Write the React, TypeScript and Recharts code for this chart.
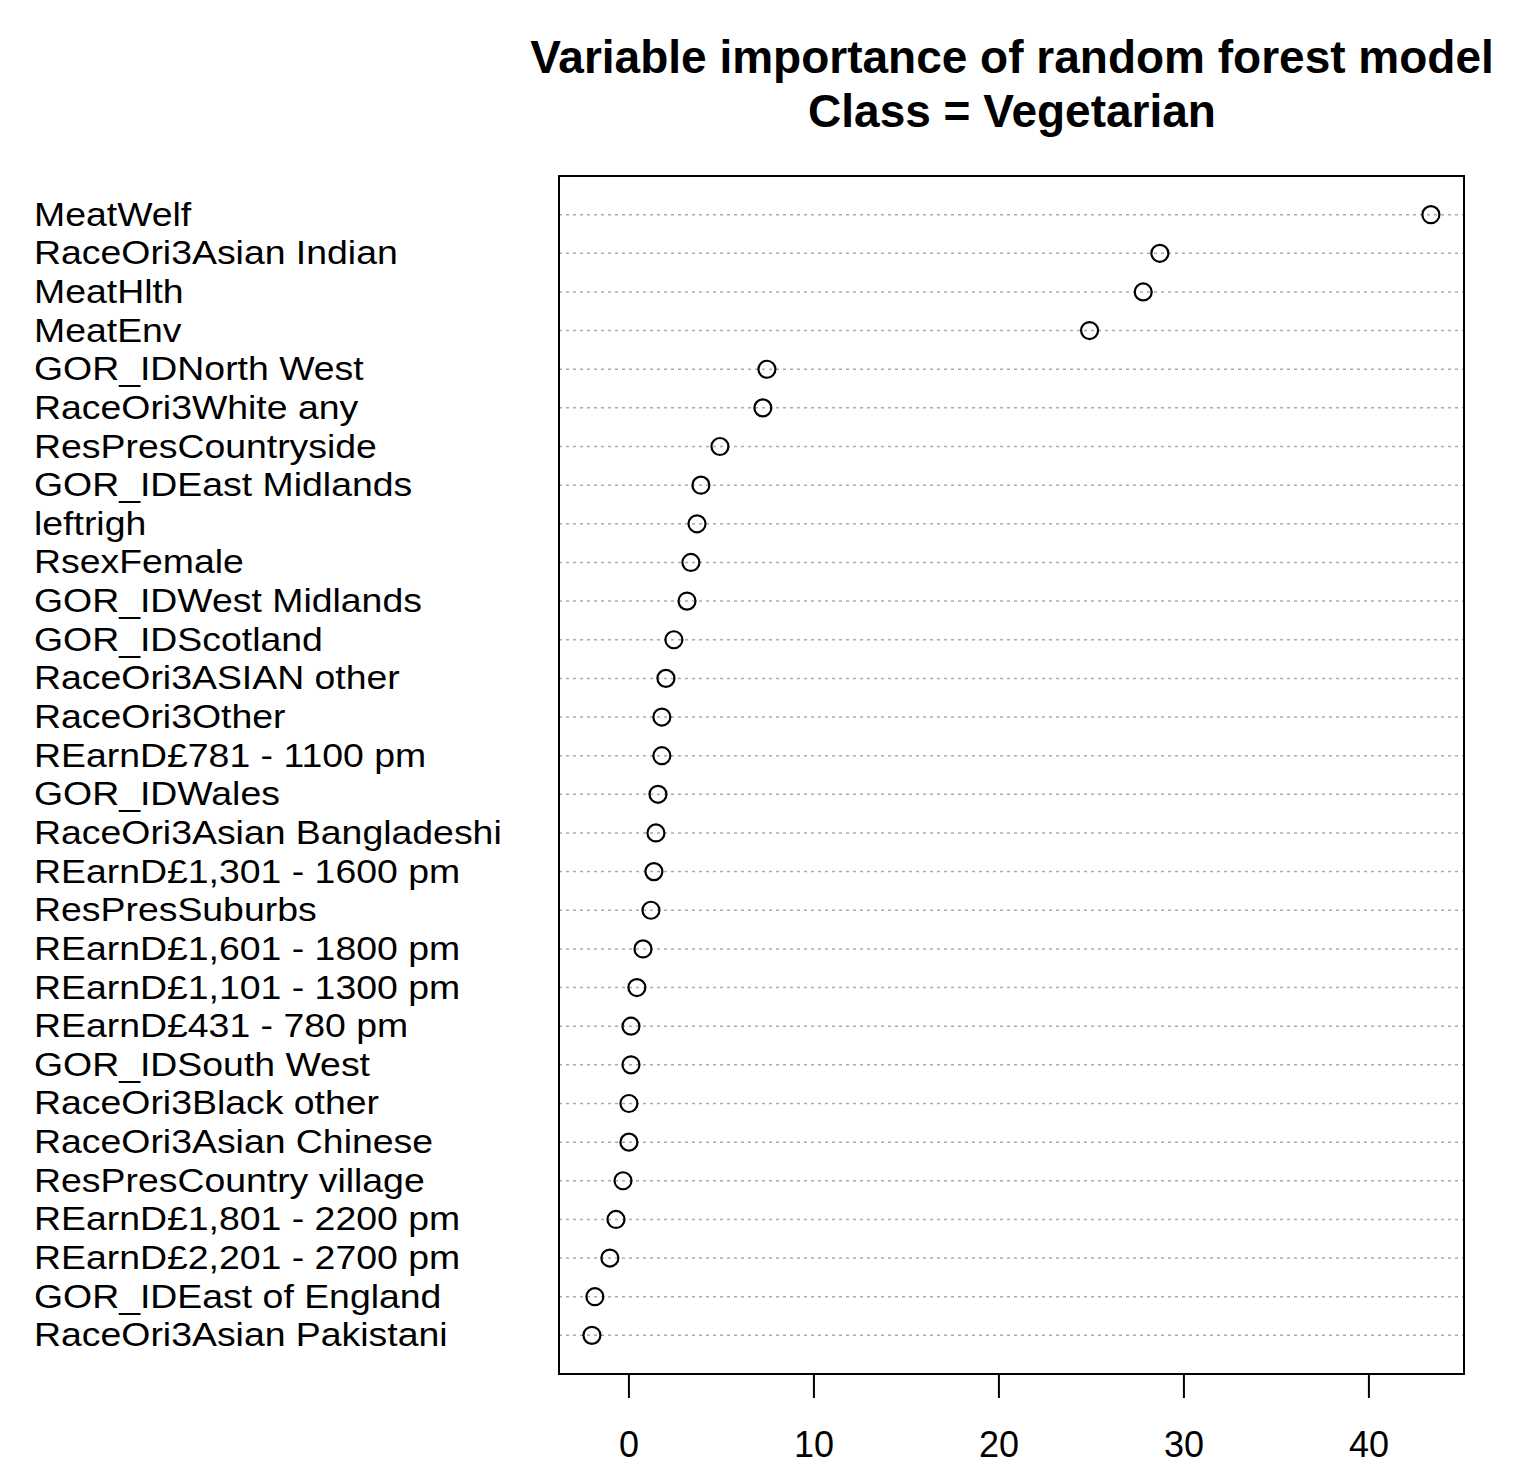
import { ScatterChart, Scatter, XAxis, YAxis, CartesianGrid, ReferenceArea } from 'recharts'

const LABELS = [
  'MeatWelf',
  'RaceOri3Asian Indian',
  'MeatHlth',
  'MeatEnv',
  'GOR_IDNorth West',
  'RaceOri3White any',
  'ResPresCountryside',
  'GOR_IDEast Midlands',
  'leftrigh',
  'RsexFemale',
  'GOR_IDWest Midlands',
  'GOR_IDScotland',
  'RaceOri3ASIAN other',
  'RaceOri3Other',
  'REarnD£781 - 1100 pm',
  'GOR_IDWales',
  'RaceOri3Asian Bangladeshi',
  'REarnD£1,301 - 1600 pm',
  'ResPresSuburbs',
  'REarnD£1,601 - 1800 pm',
  'REarnD£1,101 - 1300 pm',
  'REarnD£431 - 780 pm',
  'GOR_IDSouth West',
  'RaceOri3Black other',
  'RaceOri3Asian Chinese',
  'ResPresCountry village',
  'REarnD£1,801 - 2200 pm',
  'REarnD£2,201 - 2700 pm',
  'GOR_IDEast of England',
  'RaceOri3Asian Pakistani',
]

// MeanDecreaseAccuracy for class Vegetarian
const IMPORTANCE = [
  43.35, 28.7, 27.8, 24.9, 7.46, 7.24, 4.92, 3.89, 3.68, 3.35,
  3.14, 2.43, 2.0, 1.78, 1.78, 1.57, 1.46, 1.35, 1.19, 0.76,
  0.43, 0.11, 0.11, 0.0, 0.0, -0.32, -0.7, -1.03, -1.84, -2.0,
]

const X_TICKS = [0, 10, 20, 30, 40]
const X_DOMAIN = [-3.78, 45.14]
const ROW_TICKS = LABELS.map((_, i) => i + 1)

const data = LABELS.map((name, i) => ({ name, value: IMPORTANCE[i], row: i + 1 }))

const FONT = '"Liberation Sans", Arial, sans-serif'

function RowLabel(props: any) {
  const { y, payload } = props
  const label = LABELS[payload.value - 1]
  if (!label) return null
  return (
    <text
      x={0}
      y={0}
      transform={`translate(26, ${y}) scale(1.1, 1)`}
      dy={11}
      textAnchor="start"
      fontFamily={FONT}
      fontSize={34}
      fill="#000"
    >
      {label}
    </text>
  )
}

function OpenCircle(props: any) {
  const { cx, cy } = props
  return <circle cx={cx} cy={cy} r={8.5} fill="none" stroke="#000" strokeWidth={2.2} />
}

const titleStyle = {
  position: 'absolute' as const,
  left: 404,
  width: 1200,
  textAlign: 'center' as const,
  fontSize: 46,
  fontWeight: 'bold' as const,
  lineHeight: '46px',
}

export default function App() {
  return (
    <div style={{ position: 'relative', width: 1525, height: 1457, fontFamily: FONT }}>
      <div style={{ ...titleStyle, top: 26 }}>Variable importance of random forest model</div>
      <div style={{ ...titleStyle, top: 80 }}>Class = Vegetarian</div>
      <ScatterChart width={1525} height={1457} margin={{ top: 168, right: 69, bottom: 21, left: 0 }}>
        <CartesianGrid vertical={false} stroke="#aaa" strokeDasharray="3 4" strokeWidth={1.5} />
        <XAxis
          type="number"
          dataKey="value"
          domain={X_DOMAIN}
          ticks={X_TICKS}
          allowDataOverflow
          axisLine={false}
          tickSize={24}
          tickMargin={33}
          tickLine={{ stroke: '#000', strokeWidth: 2 }}
          tick={{ fontSize: 36, fill: '#000', fontFamily: FONT }}
          height={70}
        />
        <YAxis
          type="number"
          dataKey="row"
          domain={[0, 31]}
          reversed
          ticks={ROW_TICKS}
          interval={0}
          axisLine={false}
          tickLine={false}
          width={551}
          tick={<RowLabel />}
        />
        <ReferenceArea
          x1={X_DOMAIN[0]}
          x2={X_DOMAIN[1]}
          y1={0}
          y2={31}
          fill="none"
          stroke="#000"
          strokeWidth={2}
          ifOverflow="visible"
        />
        <Scatter data={data} shape={<OpenCircle />} isAnimationActive={false} />
      </ScatterChart>
    </div>
  )
}
